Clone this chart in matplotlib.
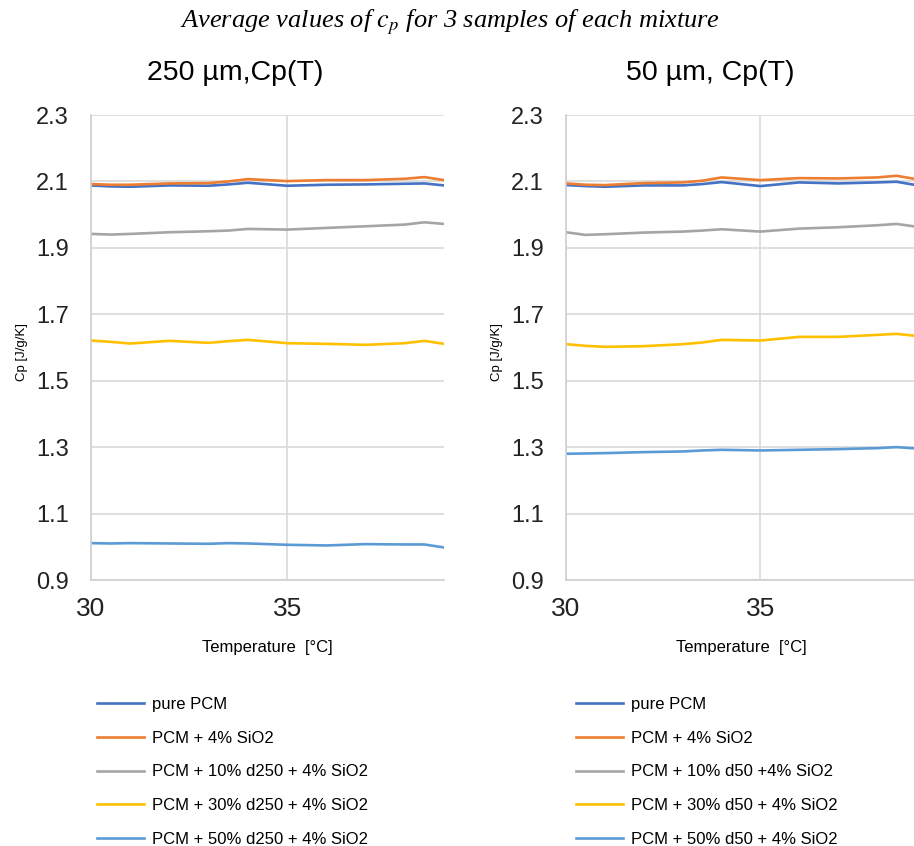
import matplotlib
matplotlib.use("Agg")
import matplotlib.pyplot as plt

temps = [30, 30.5, 31, 32, 33, 33.5, 34, 35, 36, 37, 38, 38.5, 39]

# 250 um panel
l_pure = [2.088, 2.085, 2.084, 2.088, 2.087, 2.091, 2.096, 2.087, 2.090, 2.091, 2.093, 2.094, 2.088]
l_sio2 = [2.092, 2.090, 2.090, 2.094, 2.095, 2.100, 2.107, 2.101, 2.104, 2.104, 2.108, 2.113, 2.104]
l_10 = [1.942, 1.940, 1.942, 1.947, 1.950, 1.952, 1.957, 1.955, 1.960, 1.965, 1.970, 1.977, 1.972]
l_30 = [1.621, 1.617, 1.612, 1.620, 1.614, 1.619, 1.623, 1.613, 1.611, 1.608, 1.613, 1.620, 1.611]
l_50 = [1.011, 1.010, 1.011, 1.010, 1.009, 1.011, 1.010, 1.006, 1.004, 1.008, 1.007, 1.007, 0.998]

# 50 um panel
r_pure = [2.089, 2.086, 2.084, 2.088, 2.088, 2.092, 2.098, 2.086, 2.097, 2.094, 2.097, 2.099, 2.089]
r_sio2 = [2.094, 2.090, 2.089, 2.095, 2.097, 2.102, 2.112, 2.104, 2.110, 2.109, 2.112, 2.117, 2.107]
r_10 = [1.947, 1.939, 1.941, 1.946, 1.949, 1.952, 1.956, 1.949, 1.958, 1.962, 1.968, 1.972, 1.964]
r_30 = [1.610, 1.605, 1.602, 1.604, 1.610, 1.615, 1.623, 1.621, 1.632, 1.632, 1.638, 1.641, 1.635]
r_50 = [1.280, 1.281, 1.282, 1.285, 1.287, 1.290, 1.292, 1.290, 1.292, 1.294, 1.297, 1.300, 1.296]

labels_left = ["pure PCM", "PCM + 4% SiO2", "PCM + 10% d250 + 4% SiO2",
               "PCM + 30% d250 + 4% SiO2", "PCM + 50% d250 + 4% SiO2"]
labels_right = ["pure PCM", "PCM + 4% SiO2", "PCM + 10% d50 +4% SiO2",
                "PCM + 30% d50 + 4% SiO2", "PCM + 50% d50 + 4% SiO2"]
colors = ["#4472C4", "#ED7D31", "#A5A5A5", "#FFC000", "#5B9BD5"]

plt.rcParams['font.family'] = ['Liberation Sans', 'DejaVu Sans']
plt.rcParams['mathtext.fontset'] = 'stix'

fig = plt.figure(figsize=(9.14, 8.46), dpi=100)
ax1 = fig.add_axes([91/914, 1 - 580/846, 353/914, 465/846])
ax2 = fig.add_axes([566/914, 1 - 580/846, 350/914, 465/846])


def draw_panel(ax, series, labels, ylab_x):
    lines = []
    for s, lab, c in zip(series, labels, colors):
        ln, = ax.plot(temps, s, color=c, lw=1.9, label=lab)
        lines.append(ln)
    ax.set_xlim(30, 39)
    ax.set_ylim(0.9, 2.3)
    ax.set_yticks([0.9, 1.1, 1.3, 1.5, 1.7, 1.9, 2.1, 2.3])
    ax.set_yticklabels(["0.9", "1.1", "1.3", "1.5", "1.7", "1.9", "2.1", "2.3"])
    ax.set_xticks([30, 35])
    ax.grid(True, color="#D9D9D9", lw=1.2)
    ax.set_axisbelow(True)
    for sp in ["top", "right"]:
        ax.spines[sp].set_visible(False)
    for sp in ["left", "bottom"]:
        ax.spines[sp].set_color("#D0D0D0")
        ax.spines[sp].set_linewidth(1.2)
    ax.tick_params(axis="y", length=0, pad=16, labelsize=17, colors="#222222")
    ax.tick_params(axis="x", length=0, pad=12, labelsize=19, colors="#222222")
    ax.set_xlabel("Temperature  [°C]", fontsize=12, labelpad=14)
    ax.set_ylabel("Cp [J/g/K]", fontsize=9.5)
    ax.yaxis.set_label_coords(ylab_x, 0.49)
    return lines


h1 = draw_panel(ax1, [l_pure, l_sio2, l_10, l_30, l_50], labels_left, -0.178)
h2 = draw_panel(ax2, [r_pure, r_sio2, r_10, r_30, r_50], labels_right, -0.18)

fig.text(0.492, 1 - 22/846, "Average values of $c_p$ for 3 samples of each mixture",
         family="Liberation Serif", style="italic", fontsize=19,
         ha="center", va="center")
fig.text(235/914, 1 - 73/846, "250 µm,Cp(T)", fontsize=20.5, ha="center", va="center")
fig.text(710/914, 1 - 73/846, "50 µm, Cp(T)", fontsize=20.5, ha="center", va="center")

leg_kw = dict(loc="upper left", frameon=False, fontsize=12, handlelength=2.8,
              handletextpad=0.5, labelspacing=1.12, borderpad=0, borderaxespad=0)
fig.legend(h1, labels_left, bbox_to_anchor=(97/914, 1 - 697/846), **leg_kw)
fig.legend(h2, labels_right, bbox_to_anchor=(576/914, 1 - 697/846), **leg_kw)

fig.savefig("out.png", dpi=100)
